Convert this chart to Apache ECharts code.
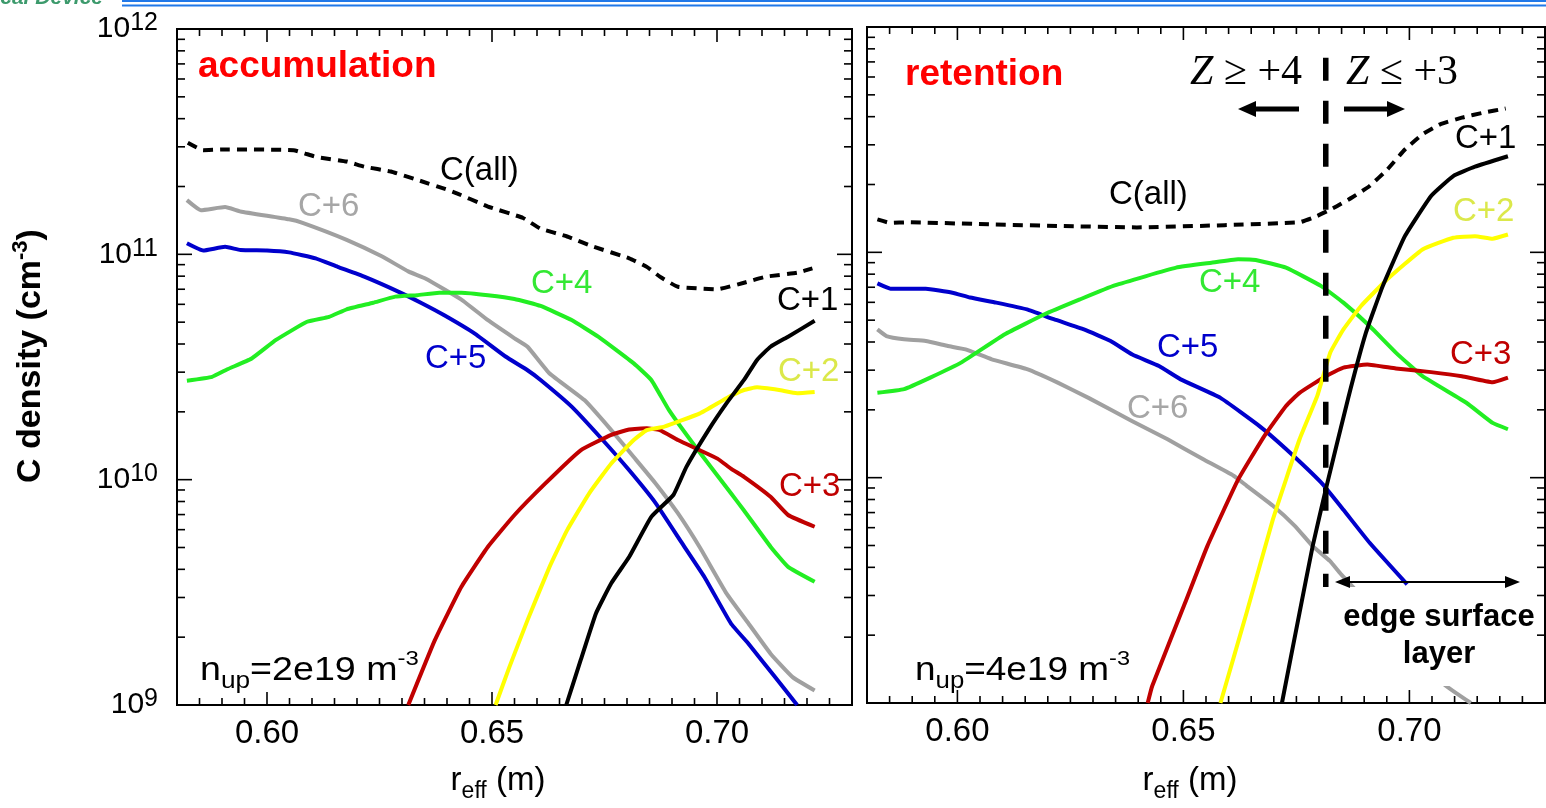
<!DOCTYPE html>
<html>
<head>
<meta charset="utf-8">
<script src="https://cdn.jsdelivr.net/npm/echarts@6/dist/echarts.min.js"></script>
<style>
  html, body { margin: 0; padding: 0; background: #ffffff; }
  #chart { width: 1546px; height: 808px; }
</style>
</head>
<body>
<div id="chart"></div>
<script>
// Carbon charge-state density profiles, [r_eff (m), density (cm^-3)]
// Left panel: "accumulation" case, n_up = 2e19 m^-3
const accAll = [[0.5824,3.13e11],[0.5858,2.90e11],[0.5902,2.92e11],[0.6059,2.90e11],[0.6108,2.71e11],[0.6177,2.58e11],[0.6216,2.45e11],[0.6275,2.33e11],[0.6334,2.14e11],[0.6412,1.90e11],[0.6491,1.63e11],[0.6569,1.45e11],[0.6608,1.30e11],[0.6667,1.20e11],[0.6726,1.08e11],[0.6805,9.6e10],[0.6844,8.8e10],[0.6873,7.96e10],[0.6913,7.18e10],[0.7001,7.0e10],[0.7060,7.48e10],[0.7109,7.96e10],[0.7178,8.28e10],[0.7212,8.67e10]];
const accC6 = [[0.5822,1.74e11],[0.5853,1.57e11],[0.5907,1.62e11],[0.5941,1.55e11],[0.6049,1.43e11],[0.6079,1.38e11],[0.6177,1.16e11],[0.6255,9.8e10],[0.6314,8.4e10],[0.6353,7.8e10],[0.6432,6.3e10],[0.6491,5.1e10],[0.6550,4.24e10],[0.6579,3.89e10],[0.6628,2.96e10],[0.6706,2.25e10],[0.6765,1.66e10],[0.6815,1.26e10],[0.6864,9.6e9],[0.6913,7.1e9],[0.6962,5.0e9],[0.7021,3.13e9],[0.7070,2.30e9],[0.7119,1.69e9],[0.7168,1.33e9],[0.7217,1.16e9]];
const accC5 = [[0.5822,1.12e11],[0.5858,1.04e11],[0.5907,1.08e11],[0.5941,1.045e11],[0.6000,1.04e11],[0.6049,1.02e11],[0.6108,9.6e10],[0.6157,8.8e10],[0.6216,7.96e10],[0.6294,6.8e10],[0.6344,6.07e10],[0.6393,5.38e10],[0.6461,4.46e10],[0.6530,3.52e10],[0.6579,3.06e10],[0.6608,2.77e10],[0.6677,2.11e10],[0.6746,1.50e10],[0.6805,1.10e10],[0.6864,7.85e9],[0.6923,5.2e9],[0.6972,3.7e9],[0.7031,2.30e9],[0.7070,1.87e9],[0.7129,1.33e9],[0.7178,1.0e9]];
const accC4 = [[0.5822,2.75e10],[0.5878,2.86e10],[0.5912,3.09e10],[0.5966,3.45e10],[0.6020,4.17e10],[0.6089,5.02e10],[0.6138,5.28e10],[0.6177,5.70e10],[0.6236,6.10e10],[0.6285,6.49e10],[0.6334,6.59e10],[0.6383,6.76e10],[0.6432,6.76e10],[0.6491,6.59e10],[0.6550,6.34e10],[0.6608,5.90e10],[0.6677,5.11e10],[0.6736,4.31e10],[0.6815,3.28e10],[0.6854,2.77e10],[0.6893,2.04e10],[0.6952,1.40e10],[0.7031,8.7e9],[0.7060,7.3e9],[0.7119,5.04e9],[0.7158,4.10e9],[0.7217,3.52e9]];
const accC3 = [[0.6314,1.0e9],[0.6373,1.94e9],[0.6432,3.35e9],[0.6491,5.04e9],[0.6550,6.97e9],[0.6618,9.6e9],[0.6697,1.35e10],[0.6765,1.58e10],[0.6805,1.67e10],[0.6844,1.69e10],[0.6873,1.66e10],[0.6913,1.50e10],[0.6962,1.35e10],[0.7001,1.24e10],[0.7031,1.12e10],[0.7060,1.03e10],[0.7119,8.4e9],[0.7158,6.97e9],[0.7217,6.18e9]];
const accC2 = [[0.6508,1.0e9],[0.6539,1.48e9],[0.6579,2.38e9],[0.6628,4.11e9],[0.6667,5.97e9],[0.6716,8.7e9],[0.6765,1.18e10],[0.6815,1.50e10],[0.6844,1.66e10],[0.6883,1.72e10],[0.6962,1.97e10],[0.7021,2.30e10],[0.7060,2.50e10],[0.7089,2.57e10],[0.7138,2.50e10],[0.7178,2.42e10],[0.7217,2.45e10]];
const accC1 = [[0.6665,1.0e9],[0.6697,1.58e9],[0.6731,2.55e9],[0.6765,3.47e9],[0.6805,4.55e9],[0.6854,6.84e9],[0.6903,8.55e9],[0.6932,1.14e10],[0.6981,1.66e10],[0.7021,2.18e10],[0.7060,2.77e10],[0.7089,3.40e10],[0.7119,3.89e10],[0.7158,4.31e10],[0.7217,5.07e10]];

// Right panel: "retention" case, n_up = 4e19 m^-3
const retAll = [[0.5823,1.40e11],[0.5852,1.35e11],[0.5891,1.36e11],[0.6076,1.33e11],[0.6222,1.31e11],[0.6397,1.29e11],[0.6591,1.32e11],[0.6757,1.36e11],[0.6796,1.45e11],[0.6834,1.58e11],[0.6873,1.75e11],[0.6912,1.97e11],[0.6951,2.33e11],[0.6990,2.86e11],[0.7029,3.34e11],[0.7068,3.70e11],[0.7116,3.96e11],[0.7165,4.17e11],[0.7213,4.35e11]];
const retC1 = [[0.6718,1.0e9],[0.6757,2.52e9],[0.6786,4.97e9],[0.6815,8.87e9],[0.6864,2.23e10],[0.6904,4.41e10],[0.6941,7.08e10],[0.6990,1.18e11],[0.7048,1.78e11],[0.7097,2.18e11],[0.7145,2.40e11],[0.7218,2.67e11]];
const retC2 = [[0.6582,1.0e9],[0.6640,2.52e9],[0.6698,6.53e9],[0.6757,1.48e10],[0.6796,2.30e10],[0.6825,3.59e10],[0.6854,4.55e10],[0.6893,5.78e10],[0.6951,7.59e10],[0.7029,1.03e11],[0.7097,1.16e11],[0.7145,1.18e11],[0.7184,1.15e11],[0.7218,1.20e11]];
const retC3 = [[0.6421,1.0e9],[0.6431,1.19e9],[0.6504,2.79e9],[0.6553,4.97e9],[0.6621,9.8e9],[0.6679,1.53e10],[0.6727,2.08e10],[0.6757,2.38e10],[0.6815,2.82e10],[0.6854,3.08e10],[0.6907,3.18e10],[0.6970,3.05e10],[0.7048,2.94e10],[0.7116,2.82e10],[0.7184,2.65e10],[0.7218,2.78e10]];
const retC4 = [[0.5823,2.38e10],[0.5882,2.47e10],[0.5940,2.78e10],[0.6008,3.24e10],[0.6105,4.33e10],[0.6193,5.31e10],[0.6271,6.18e10],[0.6348,7.13e10],[0.6484,8.55e10],[0.6562,8.99e10],[0.6621,9.31e10],[0.6660,9.25e10],[0.6727,8.55e10],[0.6805,7.08e10],[0.6854,5.98e10],[0.6912,4.71e10],[0.6970,3.59e10],[0.7029,2.82e10],[0.7126,2.15e10],[0.7184,1.75e10],[0.7218,1.64e10]];
const retC5 = [[0.5823,7.28e10],[0.5852,6.90e10],[0.5930,6.90e10],[0.5989,6.62e10],[0.6028,6.30e10],[0.6086,5.98e10],[0.6154,5.58e10],[0.6213,5.05e10],[0.6280,4.55e10],[0.6339,4.04e10],[0.6387,3.52e10],[0.6446,3.13e10],[0.6494,2.73e10],[0.6582,2.26e10],[0.6669,1.69e10],[0.6727,1.34e10],[0.6805,9.5e9],[0.6854,7.2e9],[0.6912,5.14e9],[0.6995,3.36e9]];
const retC6 = [[0.5823,4.55e10],[0.5843,4.25e10],[0.5882,4.11e10],[0.5930,4.04e10],[0.5979,3.84e10],[0.6018,3.71e10],[0.6076,3.35e10],[0.6154,3.03e10],[0.6222,2.64e10],[0.6290,2.26e10],[0.6387,1.78e10],[0.6465,1.48e10],[0.6543,1.21e10],[0.6611,1.02e10],[0.6640,9.2e9],[0.6698,7.5e9],[0.6747,6.1e9],[0.6786,4.97e9],[0.6824,4.27e9],[0.6849,3.72e9],[0.7077,1.21e9],[0.7136,1.0e9]];

// Boundary between Z >= +4 and Z <= +3 regions (right panel)
const zBoundary = [[0.6815,7.3e11],[0.6815,1.0e9]];

// Axis ranges and tick labels
const xRange = [0.58, 0.73];
const yRange = [1e9, 1e12];
const xTickLabels = ['0.60', '0.65', '0.70'];
const xMajorTicks = [0.60, 0.65, 0.70];
const xMinorTicks = [];
for (let k = 117; k <= 145; k++) { if (k % 10 !== 0) xMinorTicks.push(k * 0.005); }
const yMajorTicks = [1e10, 1e11];
const yMinorTicks = [];
for (let e = 9; e <= 11; e++) { for (let m = 2; m <= 9; m++) yMinorTicks.push(m * Math.pow(10, e)); }

const SANS = '"Liberation Sans", Arial, Helvetica, sans-serif';
const SERIF = '"Liberation Serif", "Times New Roman", serif';
const COL = {
  all: '#000000', c1: '#000000', c2: '#ffff00', c3: '#c00000',
  c4: '#22ee22', c5: '#0000cc', c6: '#a0a0a0'
};

const chart = echarts.init(document.getElementById('chart'), null, { renderer: 'canvas' });

function lineSeries(data, color, gi, dashed) {
  return {
    type: 'line', xAxisIndex: gi, yAxisIndex: gi, data: data,
    symbol: 'none', showSymbol: false, silent: true, animation: false, clip: true, z: 2,
    smooth: 0.12,
    lineStyle: { color: color, width: 4, type: dashed ? [10, 7] : 'solid', cap: 'butt', join: 'round' }
  };
}

// Tick marks on all four sides of a panel, placed through the axis scales
const tickData = [].concat(
  xMajorTicks.map(v => [v, 1e10, 0]),
  xMinorTicks.map(v => [v, 1e10, 1]),
  yMajorTicks.map(v => [0.65, v, 2]),
  yMinorTicks.map(v => [0.65, v, 3])
);
function tickSeries(gi) {
  return {
    type: 'custom', xAxisIndex: gi, yAxisIndex: gi, data: tickData, z: 4,
    silent: true, animation: false, clip: false,
    encode: { x: 0, y: 1 },
    renderItem: function (params, api) {
      const cs = params.coordSys;
      const kind = api.value(2);
      const p = api.coord([api.value(0), api.value(1)]);
      const st = { stroke: '#000', lineWidth: 1.6 };
      if (kind < 2) {
        const len = kind === 0 ? 13 : 7;
        const yb = cs.y + cs.height, yt = cs.y;
        return { type: 'group', children: [
          { type: 'line', shape: { x1: p[0], y1: yb, x2: p[0], y2: yb - len }, style: st },
          { type: 'line', shape: { x1: p[0], y1: yt, x2: p[0], y2: yt + len }, style: st }
        ] };
      }
      const len = kind === 2 ? 15 : 8;
      const xl = cs.x, xr = cs.x + cs.width;
      return { type: 'group', children: [
        { type: 'line', shape: { x1: xl, y1: p[1], x2: xl + len, y2: p[1] }, style: st },
        { type: 'line', shape: { x1: xr, y1: p[1], x2: xr - len, y2: p[1] }, style: st }
      ] };
    }
  };
}

function xAxisOpt(gi) {
  return {
    type: 'value', gridIndex: gi, min: xRange[0], max: xRange[1], interval: 0.01,
    axisLine: { show: false }, axisTick: { show: false }, splitLine: { show: false },
    axisLabel: {
      margin: 12, fontSize: 33, fontFamily: SANS, color: '#000', hideOverlap: false,
      formatter: function (v) { const s = v.toFixed(2); return xTickLabels.indexOf(s) >= 0 ? s : ''; }
    }
  };
}
function yAxisOpt(gi, showLabels) {
  return {
    type: 'log', logBase: 10, gridIndex: gi, min: yRange[0], max: yRange[1], splitNumber: 3,
    axisLine: { show: false }, axisTick: { show: false }, splitLine: { show: false },
    axisLabel: {
      show: showLabels, margin: 19, color: '#000', hideOverlap: false, fontSize: 29, fontFamily: SANS,
      formatter: function (v) { return '{b|10}{s|' + Math.round(Math.log10(v)) + '}'; },
      rich: {
        b: { fontSize: 30, lineHeight: 36, fontFamily: SANS, color: '#000' },
        s: { fontSize: 25, lineHeight: 25, verticalAlign: 'top', fontFamily: SANS, color: '#000' }
      }
    }
  };
}

function txt(x, y, text, color, size, extra) {
  return Object.assign({
    type: 'text', x: x, y: y, z: 10, silent: true,
    style: Object.assign({ text: text, fill: color, fontSize: size, fontFamily: SANS, align: 'left', verticalAlign: 'middle' },
      (extra && extra.style) || {})
  }, (extra && extra.el) || {});
}
const subSupRich = {
  a: { fontSize: 33, lineHeight: 44, fontFamily: SANS, fill: '#000' },
  sub: { fontSize: 23, lineHeight: 23, verticalAlign: 'bottom', fontFamily: SANS, fill: '#000' },
  sup: { fontSize: 21, lineHeight: 21, verticalAlign: 'top', fontFamily: SANS, fill: '#000' }
};
function richTxt(x, y, text, align, extraEl) {
  return Object.assign({
    type: 'text', x: x, y: y, z: 10, silent: true,
    style: { text: text, rich: subSupRich, align: align || 'left', verticalAlign: 'middle', fontFamily: SANS, fontSize: 33, fill: '#000' }
  }, extraEl || {});
}

const graphics = [
  // slide header fragment
  { type: 'line', z: 10, silent: true, shape: { x1: 122, y1: 1, x2: 1546, y2: 1 }, style: { stroke: '#2178e8', lineWidth: 2 } },
  { type: 'line', z: 10, silent: true, shape: { x1: 122, y1: 5.5, x2: 1546, y2: 5.5 }, style: { stroke: '#2178e8', lineWidth: 2 } },
  txt(103, 9, 'cal Device', '#3c9a6c', 21, { style: { align: 'right', verticalAlign: 'bottom', fontWeight: 'bold', fontStyle: 'italic' } }),

  // axis titles
  { type: 'text', x: 31, y: 356, rotation: Math.PI / 2, z: 10, silent: true,
    style: { text: '{m|C density (cm}{s|-3}{m|)}', align: 'center', verticalAlign: 'middle',
      rich: { m: { fontSize: 34, lineHeight: 42, fontFamily: SANS, fontWeight: 'bold', fill: '#000' },
              s: { fontSize: 22, lineHeight: 22, verticalAlign: 'top', fontFamily: SANS, fontWeight: 'bold', fill: '#000' } } } },
  richTxt(498, 781, '{a|r}{sub|eff}{a| (m)}', 'center'),
  richTxt(1190, 781, '{a|r}{sub|eff}{a| (m)}', 'center'),

  // panel titles
  txt(198, 67, 'accumulation', '#ff0000', 37, { style: { fontWeight: 'bold' } }),
  txt(905, 75, 'retention', '#ff0000', 37, { style: { fontWeight: 'bold' } }),

  // left panel curve labels
  txt(440, 171, 'C(all)', '#000', 33),
  txt(298, 207, 'C+6', '#a6a6a6', 33),
  txt(531, 284, 'C+4', '#33e833', 33),
  txt(425, 359, 'C+5', '#0000cc', 33),
  txt(777, 301, 'C+1', '#000', 33),
  txt(778, 372, 'C+2', '#dbe84a', 33),
  txt(779, 487, 'C+3', '#c00000', 33),
  richTxt(200, 671, '{a|n}{sub|up}{a|=2e19 m}{sup|-3}', 'left', { scaleX: 1.14 }),

  // right panel curve labels
  txt(1109, 195, 'C(all)', '#000', 33),
  txt(1455, 139, 'C+1', '#000', 33),
  txt(1453, 212, 'C+2', '#dbe84a', 33),
  txt(1199, 283, 'C+4', '#33e833', 33),
  txt(1157, 348, 'C+5', '#0000cc', 33),
  txt(1450, 355, 'C+3', '#c00000', 33),
  txt(1127, 409, 'C+6', '#a6a6a6', 33),
  richTxt(915, 671, '{a|n}{sub|up}{a|=4e19 m}{sup|-3}', 'left', { scaleX: 1.12 }),

  // charge-state region markers
  { type: 'text', x: 1190, y: 73, z: 10, silent: true,
    style: { text: '{z|Z} \u2265 +4', align: 'left', verticalAlign: 'middle', fontSize: 42, fontFamily: SERIF, fill: '#000',
      rich: { z: { fontSize: 42, fontFamily: SERIF, fontStyle: 'italic', fill: '#000' } } } },
  { type: 'text', x: 1346, y: 73, z: 10, silent: true,
    style: { text: '{z|Z} \u2264 +3', align: 'left', verticalAlign: 'middle', fontSize: 42, fontFamily: SERIF, fill: '#000',
      rich: { z: { fontSize: 42, fontFamily: SERIF, fontStyle: 'italic', fill: '#000' } } } },
  { type: 'line', z: 10, silent: true, shape: { x1: 1299, y1: 109, x2: 1252, y2: 109 }, style: { stroke: '#000', lineWidth: 5 } },
  { type: 'polygon', z: 10, silent: true, shape: { points: [[1238, 109], [1256, 101], [1256, 117]] }, style: { fill: '#000' } },
  { type: 'line', z: 10, silent: true, shape: { x1: 1344, y1: 109, x2: 1391, y2: 109 }, style: { stroke: '#000', lineWidth: 5 } },
  { type: 'polygon', z: 10, silent: true, shape: { points: [[1405, 109], [1387, 101], [1387, 117]] }, style: { fill: '#000' } },

  // edge surface layer annotation
  { type: 'rect', z: 3, silent: true, shape: { x: 1312, y: 587, width: 231, height: 99 }, style: { fill: '#ffffff' } },
  { type: 'line', z: 10, silent: true, shape: { x1: 1345, y1: 582, x2: 1510, y2: 582 }, style: { stroke: '#000', lineWidth: 2 } },
  { type: 'polygon', z: 10, silent: true, shape: { points: [[1335, 582], [1350, 576], [1350, 588]] }, style: { fill: '#000' } },
  { type: 'polygon', z: 10, silent: true, shape: { points: [[1520, 582], [1505, 576], [1505, 588]] }, style: { fill: '#000' } },
  txt(1439, 617, 'edge surface', '#000', 31, { style: { align: 'center', fontWeight: 'bold' } }),
  txt(1439, 654, 'layer', '#000', 31, { style: { align: 'center', fontWeight: 'bold' } })
];

const option = {
  backgroundColor: '#ffffff',
  animation: false,
  grid: [
    { left: 177, top: 29, width: 675, height: 676, show: true, borderColor: '#000', borderWidth: 2, backgroundColor: 'transparent', outerBoundsMode: 'none' },
    { left: 867, top: 27, width: 678, height: 676, show: true, borderColor: '#000', borderWidth: 2, backgroundColor: 'transparent', outerBoundsMode: 'none' }
  ],
  xAxis: [xAxisOpt(0), xAxisOpt(1)],
  yAxis: [yAxisOpt(0, true), yAxisOpt(1, false)],
  series: [
    lineSeries(accAll, COL.all, 0, true),
    lineSeries(accC6, COL.c6, 0),
    lineSeries(accC5, COL.c5, 0),
    lineSeries(accC4, COL.c4, 0),
    lineSeries(accC3, COL.c3, 0),
    lineSeries(accC2, COL.c2, 0),
    lineSeries(accC1, COL.c1, 0),
    lineSeries(retAll, COL.all, 1, true),
    lineSeries(retC6, COL.c6, 1),
    lineSeries(retC5, COL.c5, 1),
    lineSeries(retC4, COL.c4, 1),
    lineSeries(retC3, COL.c3, 1),
    lineSeries(retC2, COL.c2, 1),
    lineSeries(retC1, COL.c1, 1),
    {
      type: 'line', xAxisIndex: 1, yAxisIndex: 1, data: zBoundary, symbol: 'none', silent: true, animation: false, z: 2,
      lineStyle: { color: '#000', width: 5.5, type: [23, 20], cap: 'butt' }
    },
    tickSeries(0),
    tickSeries(1)
  ],
  graphic: graphics
};
chart.setOption(option);
</script>
</body>
</html>
